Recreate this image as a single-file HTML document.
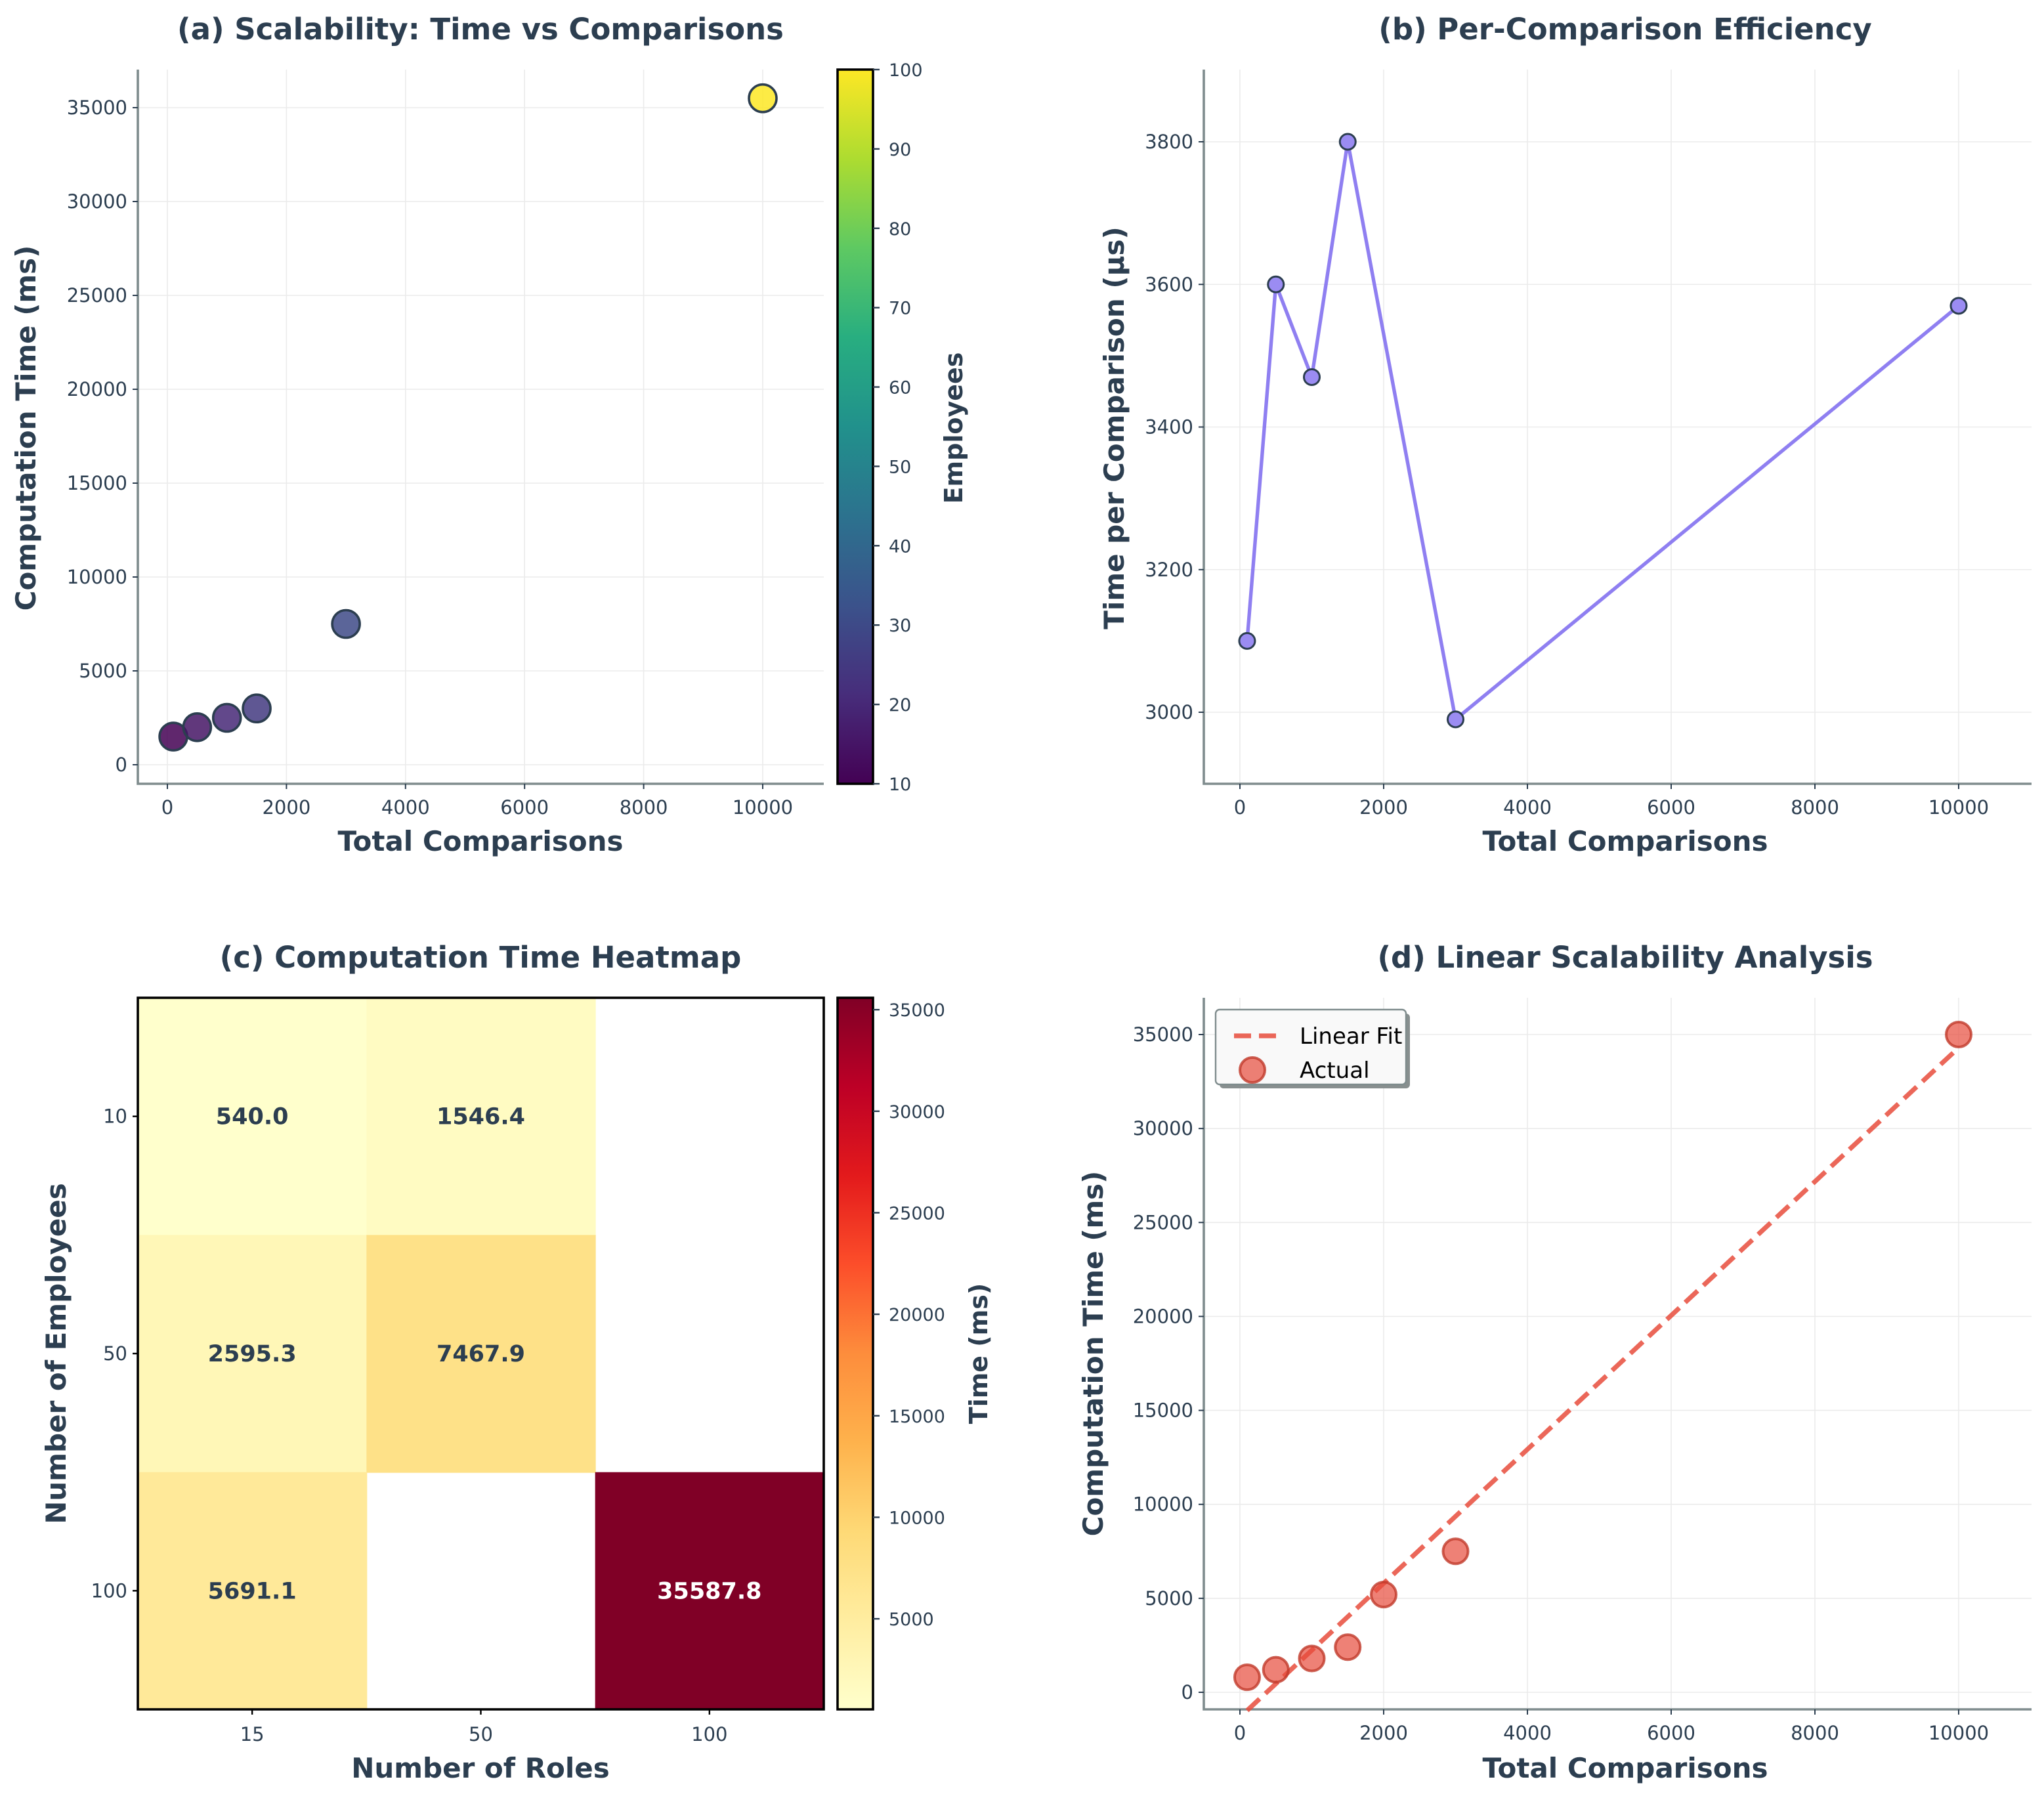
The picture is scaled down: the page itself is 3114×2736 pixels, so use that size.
<!DOCTYPE html>
<html><head><meta charset="utf-8"><style>
html,body{margin:0;padding:0;background:#fff}
svg{display:block}
text{font-family:"DejaVu Sans","Liberation Sans",sans-serif;fill:#2c3e50}
</style></head><body>
<svg id="fig" width="3114" height="2736" viewBox="0 0 1557 1368" xmlns="http://www.w3.org/2000/svg">
<rect width="1557" height="1368" fill="#fff"/>
<defs>
<linearGradient id="viridisGrad" x1="0" y1="1" x2="0" y2="0">
<stop offset="0" stop-color="#440154"/><stop offset="0.125" stop-color="#472d7b"/><stop offset="0.25" stop-color="#3b528b"/><stop offset="0.375" stop-color="#2c728e"/><stop offset="0.5" stop-color="#21918c"/><stop offset="0.625" stop-color="#28ae80"/><stop offset="0.75" stop-color="#5ec962"/><stop offset="0.875" stop-color="#addc30"/><stop offset="1" stop-color="#fde725"/>
</linearGradient>
<linearGradient id="ylorrdGrad" x1="0" y1="1" x2="0" y2="0">
<stop offset="0" stop-color="#ffffcc"/><stop offset="0.125" stop-color="#ffeda0"/><stop offset="0.25" stop-color="#fed976"/><stop offset="0.375" stop-color="#feb24c"/><stop offset="0.5" stop-color="#fd8d3c"/><stop offset="0.625" stop-color="#fc4e2a"/><stop offset="0.75" stop-color="#e31a1c"/><stop offset="0.875" stop-color="#bd0026"/><stop offset="1" stop-color="#800026"/>
</linearGradient>
</defs>
<g id="root"></g>
</svg>
<script>
// Panel (a) data
const aComparisons = [100, 500, 1000, 1500, 3000, 10000];
const aTimes = [1500, 2000, 2500, 3000, 7500, 35500];
const aEmployees = [10, 15, 20, 25, 30, 100];
const aXTicks = [0, 2000, 4000, 6000, 8000, 10000];
const aYTicks = [0, 5000, 10000, 15000, 20000, 25000, 30000, 35000];
const aCbTicks = [10, 20, 30, 40, 50, 60, 70, 80, 90, 100];
// Panel (b) data
const bComparisons = [100, 500, 1000, 1500, 3000, 10000];
const bPerComp = [3100, 3600, 3470, 3800, 2990, 3570];
const bXTicks = [0, 2000, 4000, 6000, 8000, 10000];
const bYTicks = [3000, 3200, 3400, 3600, 3800];
// Panel (c) data
const cRoles = ["15", "50", "100"];
const cEmployees = ["10", "50", "100"];
const cValues = [[540.0, 1546.4, null], [2595.3, 7467.9, null], [5691.1, null, 35587.8]];
const cCbTicks = [5000, 10000, 15000, 20000, 25000, 30000, 35000];
// Panel (d) data
const dComparisons = [100, 500, 1000, 1500, 2000, 3000, 10000];
const dTimes = [800, 1200, 1800, 2400, 5200, 7500, 35000];
const dFitSlope = [3.5627];
const dFitIntercept = [-1326];
const dXTicks = [0, 2000, 4000, 6000, 8000, 10000];
const dYTicks = [0, 5000, 10000, 15000, 20000, 25000, 30000, 35000];

const NS = "http://www.w3.org/2000/svg";
const root = document.getElementById("root");
function mk(tag, attrs, parent, txt) {
  const e = document.createElementNS(NS, tag);
  for (const k in attrs) e.setAttribute(k, attrs[k]);
  if (txt !== undefined) e.textContent = txt;
  (parent || root).appendChild(e);
  return e;
}
function lin(d0, d1, r0, r1) { return v => r0 + (v - d0) / (d1 - d0) * (r1 - r0); }
function interp(stops, t) {
  t = Math.max(0, Math.min(1, t));
  const n = stops.length - 1, i = Math.min(n - 1, Math.floor(t * n)), f = t * n - i;
  const h = s => [1, 3, 5].map(j => parseInt(s.substr(j, 2), 16));
  const A = h(stops[i]), B = h(stops[i + 1]);
  return "rgb(" + A.map((x, k) => Math.round(x + (B[k] - x) * f)).join(",") + ")";
}
const VIR = ["#440154", "#472d7b", "#3b528b", "#2c728e", "#21918c", "#28ae80", "#5ec962", "#addc30", "#fde725"];
const YOR = ["#ffffcc", "#ffeda0", "#fed976", "#feb24c", "#fd8d3c", "#fc4e2a", "#e31a1c", "#bd0026", "#800026"];
const SPINE = "#7f8c8d", GRID = "#ebebeb";
const TICK = 14.5, ALAB = 21, TITLE = 22.5;

function axesFrame(g, L, R, T, B, xs, ys, xt, yt, name) {
  for (const v of xt) {
    const l = mk("line", {x1: xs(v), x2: xs(v), y1: T, y2: B, stroke: GRID, "stroke-width": 0.8}, g);
    
    
  }
  for (const v of yt) {
    const l = mk("line", {x1: L, x2: R, y1: ys(v), y2: ys(v), stroke: GRID, "stroke-width": 0.8}, g);
    
    
  }
  const sp = mk("path", {d: `M${L},${T}V${B}H${R}`, fill: "none", stroke: SPINE, "stroke-width": 1.8}, g);
  
  
  for (const v of xt) {
    mk("line", {x1: xs(v), x2: xs(v), y1: B, y2: B + 4, stroke: "#2c3e50", "stroke-width": 1}, g);
    const t = mk("text", {x: xs(v), y: B + 23, "text-anchor": "middle", "font-size": TICK}, g, String(v));
    
    
  }
  for (const v of yt) {
    mk("line", {x1: L - 4, x2: L, y1: ys(v), y2: ys(v), stroke: "#2c3e50", "stroke-width": 1}, g);
    const t = mk("text", {x: L - 8, y: ys(v) + 5, "text-anchor": "end", "font-size": TICK}, g, String(v));
    
    
  }
}
function label(g, x, y, s, size, rot, name) {
  const t = mk("text", {x: x, y: y, "text-anchor": "middle", "font-size": size, "font-weight": "bold",
    transform: rot ? `rotate(-90 ${x} ${y})` : ""}, g, s);
  
  
  return t;
}

// ---------- Panel A ----------
(function () {
  const g = mk("g", {});
  
  
  const L = 105, R = 627.5, T = 53, B = 597;
  const xs = lin(0, 10000, 127.5, 581), ys = lin(0, 35000, 582.5, 82);
  axesFrame(g, L, R, T, B, xs, ys, aXTicks, aYTicks, "panel-a");
  aComparisons.forEach((c, i) => {
    const p = mk("circle", {cx: xs(c), cy: ys(aTimes[i]), r: 10.5, fill: interp(VIR, (aEmployees[i] - 10) / 90),
      "fill-opacity": 0.85, stroke: "#2c3e50", "stroke-width": 1.8}, g);
    
    
  });
  label(g, 366, 30, "(a) Scalability: Time vs Comparisons", TITLE, false, "panel-a-title");
  label(g, 366, 648, "Total Comparisons", ALAB, false, "panel-a-x-axis-title");
  label(g, 27, 326, "Computation Time (ms)", ALAB, true, "panel-a-y-axis-title");
  const cb = mk("rect", {x: 638, y: T, width: 27, height: B - T, fill: "url(#viridisGrad)", stroke: "#000", "stroke-width": 1.8}, g);
  
  
  const cs = lin(10, 100, B, T);
  aCbTicks.forEach(v => {
    mk("line", {x1: 665, x2: 670, y1: cs(v), y2: cs(v), stroke: "#2c3e50", "stroke-width": 1.2}, g);
    const t = mk("text", {x: 677, y: cs(v) + 5, "font-size": 13.5}, g, String(v));
    
    
  });
  label(g, 733, 326, "Employees", 19, true, "colorbar-title-employees");
})();

// ---------- Panel B ----------
(function () {
  const g = mk("g", {});
  
  
  const L = 917, R = 1547.5, T = 53, B = 597;
  const xs = lin(0, 10000, 944.5, 1492), ys = lin(3000, 3800, 542.5, 108);
  axesFrame(g, L, R, T, B, xs, ys, bXTicks, bYTicks, "panel-b");
  const pts = bComparisons.map((c, i) => xs(c) + "," + ys(bPerComp[i])).join(" ");
  const pl = mk("polyline", {points: pts, fill: "none", stroke: "#7b68ee", "stroke-width": 2.7, "stroke-opacity": 0.85}, g);
  
  
  bComparisons.forEach((c, i) => {
    const p = mk("circle", {cx: xs(c), cy: ys(bPerComp[i]), r: 6, fill: "#9b8cf2", stroke: "#2c3e50", "stroke-width": 1.5}, g);
    
    
  });
  label(g, 1238, 30, "(b) Per-Comparison Efficiency", TITLE, false, "panel-b-title");
  label(g, 1238, 648, "Total Comparisons", ALAB, false, "panel-b-x-axis-title");
  label(g, 856, 326, "Time per Comparison (μs)", ALAB, true, "panel-b-y-axis-title");
})();

// ---------- Panel C ----------
(function () {
  const g = mk("g", {});
  
  
  const L = 105, R = 627.5, T = 760, B = 1302;
  const cw = (R - L) / cRoles.length, ch = (B - T) / cEmployees.length;
  const vmin = 540.0, vmax = 35587.8;
  cValues.forEach((row, r) => row.forEach((v, c) => {
    if (v === null) return;
    const cell = mk("rect", {x: L + c * cw, y: T + r * ch, width: cw + 0.5, height: ch + 0.5, fill: interp(YOR, (v - vmin) / (vmax - vmin))}, g);
    
    
    const t = mk("text", {x: L + (c + 0.5) * cw, y: T + (r + 0.5) * ch + 6, "text-anchor": "middle", "font-size": 17.5, "font-weight": "bold",
      style: (v - vmin) / (vmax - vmin) > 0.6 ? "fill:#fff" : ""}, g, v.toFixed(1));
    
    
  }));
  const fr = mk("rect", {x: L, y: T, width: R - L, height: B - T, fill: "none", stroke: "#000", "stroke-width": 1.8}, g);
  
  
  cRoles.forEach((s, c) => {
    const x = L + (c + 0.5) * cw;
    mk("line", {x1: x, x2: x, y1: B, y2: B + 4, stroke: "#000", "stroke-width": 1.2}, g);
    const t = mk("text", {x: x, y: B + 24, "text-anchor": "middle", "font-size": TICK}, g, s);
    
    
  });
  cEmployees.forEach((s, r) => {
    const y = T + (r + 0.5) * ch;
    mk("line", {x1: L - 4, x2: L, y1: y, y2: y, stroke: "#000", "stroke-width": 1.2}, g);
    const t = mk("text", {x: L - 8, y: y + 5, "text-anchor": "end", "font-size": TICK}, g, s);
    
    
  });
  label(g, 366, 737, "(c) Computation Time Heatmap", TITLE, false, "panel-c-title");
  label(g, 366, 1354, "Number of Roles", ALAB, false, "panel-c-x-axis-title");
  label(g, 50, 1031, "Number of Employees", ALAB, true, "panel-c-y-axis-title");
  const cb = mk("rect", {x: 638, y: T, width: 27, height: B - T, fill: "url(#ylorrdGrad)", stroke: "#000", "stroke-width": 1.8}, g);
  
  
  const cs = lin(vmin, vmax, B, T);
  cCbTicks.forEach(v => {
    mk("line", {x1: 665, x2: 670, y1: cs(v), y2: cs(v), stroke: "#2c3e50", "stroke-width": 1.2}, g);
    const t = mk("text", {x: 677, y: cs(v) + 5, "font-size": 13.5}, g, String(v));
    
    
  });
  label(g, 752, 1031, "Time (ms)", 19, true, "colorbar-title-time");
})();

// ---------- Panel D ----------
(function () {
  const g = mk("g", {});
  
  
  const L = 917, R = 1547.5, T = 760, B = 1302;
  const xs = lin(0, 10000, 944.5, 1492), ys = lin(0, 35000, 1289, 788);
  axesFrame(g, L, R, T, B, xs, ys, dXTicks, dYTicks, "panel-d");
  const x0 = Math.min(...dComparisons), x1 = Math.max(...dComparisons);
  const f = x => dFitSlope[0] * x + dFitIntercept[0];
  const fit = mk("line", {x1: xs(x0), y1: ys(f(x0)), x2: xs(x1), y2: ys(f(x1)), stroke: "#e74c3c", "stroke-opacity": 0.85,
    "stroke-width": 3.6, "stroke-dasharray": "13,6"}, g);
  
  
  dComparisons.forEach((c, i) => {
    const p = mk("circle", {cx: xs(c), cy: ys(dTimes[i]), r: 9.5, fill: "#e74c3c", "fill-opacity": 0.7, stroke: "#c0392b", "stroke-opacity": 0.8, "stroke-width": 2}, g);
    
    
  });
  const lg = mk("g", {}, g);
  
  
  mk("rect", {x: 929, y: 772, width: 145, height: 57, rx: 3, fill: "#888f8f"}, lg);
  mk("rect", {x: 926, y: 769, width: 145, height: 57, rx: 3, fill: "#f9f9f9", stroke: "#7f8c8d", "stroke-width": 1.2}, lg);
  const ll = mk("line", {x1: 940, x2: 977, y1: 789, y2: 789, stroke: "#e74c3c", "stroke-opacity": 0.85, "stroke-width": 3.6, "stroke-dasharray": "13,6"}, lg);
  
  
  const t1 = mk("text", {x: 990, y: 795, "font-size": 17, style: "fill:#000"}, lg, "Linear Fit");
  
  
  const lc = mk("circle", {cx: 954, cy: 815, r: 9.5, fill: "#e74c3c", "fill-opacity": 0.7, stroke: "#c0392b", "stroke-opacity": 0.8, "stroke-width": 2}, lg);
  
  
  const t2 = mk("text", {x: 990, y: 821, "font-size": 17, style: "fill:#000"}, lg, "Actual");
  
  
  label(g, 1238, 737, "(d) Linear Scalability Analysis", TITLE, false, "panel-d-title");
  label(g, 1238, 1354, "Total Comparisons", ALAB, false, "panel-d-x-axis-title");
  label(g, 840, 1031, "Computation Time (ms)", ALAB, true, "panel-d-y-axis-title");
})();
</script>
</body></html>
